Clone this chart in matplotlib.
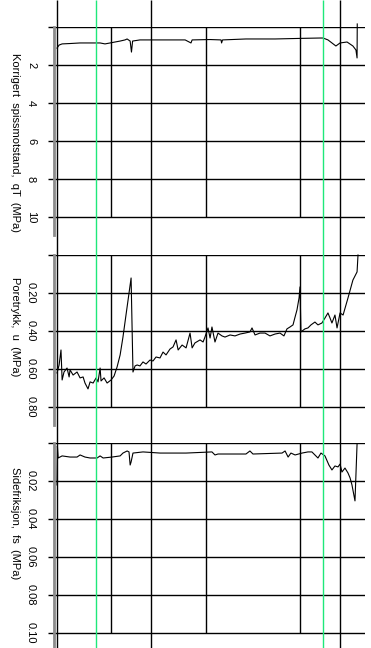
import matplotlib.pyplot as plt

plt.rcParams['font.family'] = ['Liberation Sans', 'DejaVu Sans']

# depth axis (m) and special depth markers
xlim = (1.98, 18.44)
grid_depths = [5, 10, 15]
layer_lines = [2.14, 7.12, 17.12]
green_lines = [4.21, 16.22]

# corrected cone resistance qT (MPa)
qt_depth = [2.14, 2.25, 2.41, 2.83, 3.36, 3.89, 4.42, 4.68, 4.95, 5.21, 5.48,
            5.74, 5.85, 6.01, 6.08, 6.14, 6.53, 7.59, 8.92, 9.23, 9.29, 10.24,
            10.82, 10.85, 10.90, 12.14, 13.68, 15.00, 16.06, 16.22, 16.48,
            16.69, 16.90, 17.12, 17.49, 17.80, 17.96, 18.02, 18.03]
qt_val = [1.11, 0.95, 0.89, 0.87, 0.84, 0.84, 0.84, 0.89, 0.84, 0.79, 0.74,
          0.68, 0.63, 0.74, 1.32, 0.74, 0.68, 0.68, 0.68, 0.84, 0.68, 0.66,
          0.68, 0.84, 0.68, 0.63, 0.63, 0.60, 0.58, 0.58, 0.68,
          0.84, 1.00, 0.84, 0.79, 1.00, 1.21, 1.63, -0.16]

# pore pressure u (MPa)
u_depth = [2.14, 2.25, 2.35, 2.41, 2.51, 2.67, 2.78, 2.83, 2.99, 3.20, 3.36,
           3.52, 3.62, 3.78, 3.89, 4.05, 4.21, 4.31, 4.42, 4.47, 4.63, 4.79,
           5.00, 5.16, 5.32, 5.48, 5.63, 5.79, 5.90, 6.06, 6.16, 6.27, 6.38,
           6.53, 6.69, 6.85, 7.06, 7.22, 7.38, 7.59, 7.75, 7.91, 8.12, 8.28,
           8.44, 8.55, 8.76, 8.97, 9.18, 9.29, 9.44, 9.71, 9.87, 9.97, 10.13,
           10.24, 10.34, 10.50, 10.66, 10.87, 11.03, 11.30, 11.56, 11.83,
           12.09, 12.35, 12.46, 12.62, 12.88, 13.15, 13.41, 13.68, 13.94,
           14.15, 14.31, 14.47, 14.63, 14.74, 14.84, 14.95, 15.00, 15.05,
           15.26, 15.42, 15.58, 15.79, 15.95, 16.16, 16.32, 16.48, 16.59,
           16.69, 16.85, 16.96, 17.12, 17.28, 17.54, 17.80, 18.02, 18.07]
u_val = [0.621, 0.579, 0.500, 0.658, 0.616, 0.595, 0.642, 0.605, 0.632, 0.616,
         0.647, 0.642, 0.674, 0.705, 0.668, 0.674, 0.647, 0.668, 0.595, 0.663,
         0.647, 0.674, 0.658, 0.637, 0.589, 0.526, 0.432, 0.316, 0.237, 0.121,
         0.616, 0.584, 0.579, 0.584, 0.563, 0.574, 0.553, 0.558, 0.537, 0.542,
         0.511, 0.526, 0.495, 0.484, 0.447, 0.500, 0.474, 0.489, 0.411, 0.489,
         0.463, 0.447, 0.458, 0.432, 0.384, 0.437, 0.379, 0.458, 0.411, 0.426,
         0.432, 0.421, 0.426, 0.416, 0.411, 0.405, 0.384, 0.421, 0.411, 0.411,
         0.426, 0.416, 0.411, 0.426, 0.389, 0.379, 0.368, 0.326, 0.289, 0.226,
         0.168, 0.405, 0.389, 0.384, 0.368, 0.353, 0.368, 0.358, 0.332, 0.305,
         0.332, 0.358, 0.316, 0.384, 0.305, 0.316, 0.226, 0.132, 0.089, 0.000]

# sleeve friction fs (MPa)
fs_depth = [2.14, 2.16, 2.20, 2.41, 2.83, 3.20, 3.36, 3.62, 3.89, 4.26, 4.42,
            4.58, 5.05, 5.48, 5.63, 5.85, 5.95, 6.01, 6.06, 6.16, 6.69, 7.59,
            8.97, 10.34, 10.50, 10.66, 12.14, 12.35, 12.51, 14.05, 14.21,
            14.37, 14.52, 14.74, 15.11, 15.42, 15.63, 15.79, 15.95, 16.11,
            16.32, 16.53, 16.69, 16.85, 17.01, 17.12, 17.22, 17.38, 17.54,
            17.65, 17.75, 17.91, 18.02]
fs_val = [0.0221, 0.0016, 0.0079, 0.0068, 0.0074, 0.0074, 0.0063, 0.0074,
          0.0079, 0.0079, 0.0068, 0.0079, 0.0074, 0.0068, 0.0053, 0.0042,
          0.0047, 0.0116, 0.0100, 0.0053, 0.0047, 0.0053, 0.0053, 0.0047,
          0.0063, 0.0058, 0.0058, 0.0042, 0.0058, 0.0053, 0.0042, 0.0074,
          0.0053, 0.0063, 0.0053, 0.0047, 0.0047, 0.0063, 0.0079, 0.0053,
          0.0068, 0.0116, 0.0142, 0.0121, 0.0126, 0.0111, 0.0153, 0.0132,
          0.0158, 0.0184, 0.0221, 0.0305, 0.0005]

panels = [
    (qt_depth, qt_val, 'Korrigert  spissmotstand,  qT  (MPa)',
     [0, 2, 4, 6, 8, 10], ['', '2', '4', '6', '8', '10'], (10.95, 0), 0.447),
    (u_depth, u_val, 'Poretrykk,  u  (MPa)',
     [0, 0.2, 0.4, 0.6, 0.8], ['', '0.20', '0.40', '0.60', '0.80'], (0.895, 0), 0.576),
    (fs_depth, fs_val, 'Sidefriksjon,  fs  (MPa)',
     [0, 0.02, 0.04, 0.06, 0.08, 0.10], ['', '0.02', '0.04', '0.06', '0.08', '0.10'],
     (0.108, 0), 0.61),
]

W, H = 371, 648
fig = plt.figure(figsize=(W / 100, H / 100), dpi=100)
left, right = 54, 365
boxes = [(27, 235), (255, 425), (443, 648)]

for (d, v, label, ticks, tlabels, ylim, ly), (top, bot) in zip(panels, boxes):
    ax = fig.add_axes([left / W, (H - bot) / H, (right - left) / W, (bot - top) / H])
    ax.set_xlim(*xlim)
    ax.set_ylim(*ylim)
    for s in ['top', 'right', 'bottom']:
        ax.spines[s].set_visible(False)
    ax.spines['left'].set_color('#8c8c8c')
    ax.spines['left'].set_linewidth(2)
    ax.set_xticks([])
    ax.set_yticks(ticks)
    ax.set_yticklabels(tlabels)
    ax.tick_params(axis='y', length=4, width=1, pad=9, labelsize=8,
                   labelrotation=270)
    for t in ax.get_yticklabels():
        t.set_va('center')
    ax.hlines(ticks, xlim[0], xlim[1], color='black', lw=1)
    ax.vlines(grid_depths, ticks[0], ticks[-1], color='black', lw=1)
    ax.plot(d, v, color='black', lw=0.8, clip_on=False)
    ax.set_ylabel(label, rotation=270, fontsize=8)
    ax.yaxis.set_label_coords(-0.14, ly)
    ax.patch.set_alpha(0)

over = fig.add_axes([left / W, 0, (right - left) / W, 1])
over.set_xlim(*xlim)
over.set_ylim(0, 1)
over.axis('off')
over.patch.set_alpha(0)
over.vlines(layer_lines, 0, 1, color='black', lw=1)
over.vlines(green_lines, 0, 1, color='#1ee87a', lw=1)

fig.savefig('out.png', dpi=100)
